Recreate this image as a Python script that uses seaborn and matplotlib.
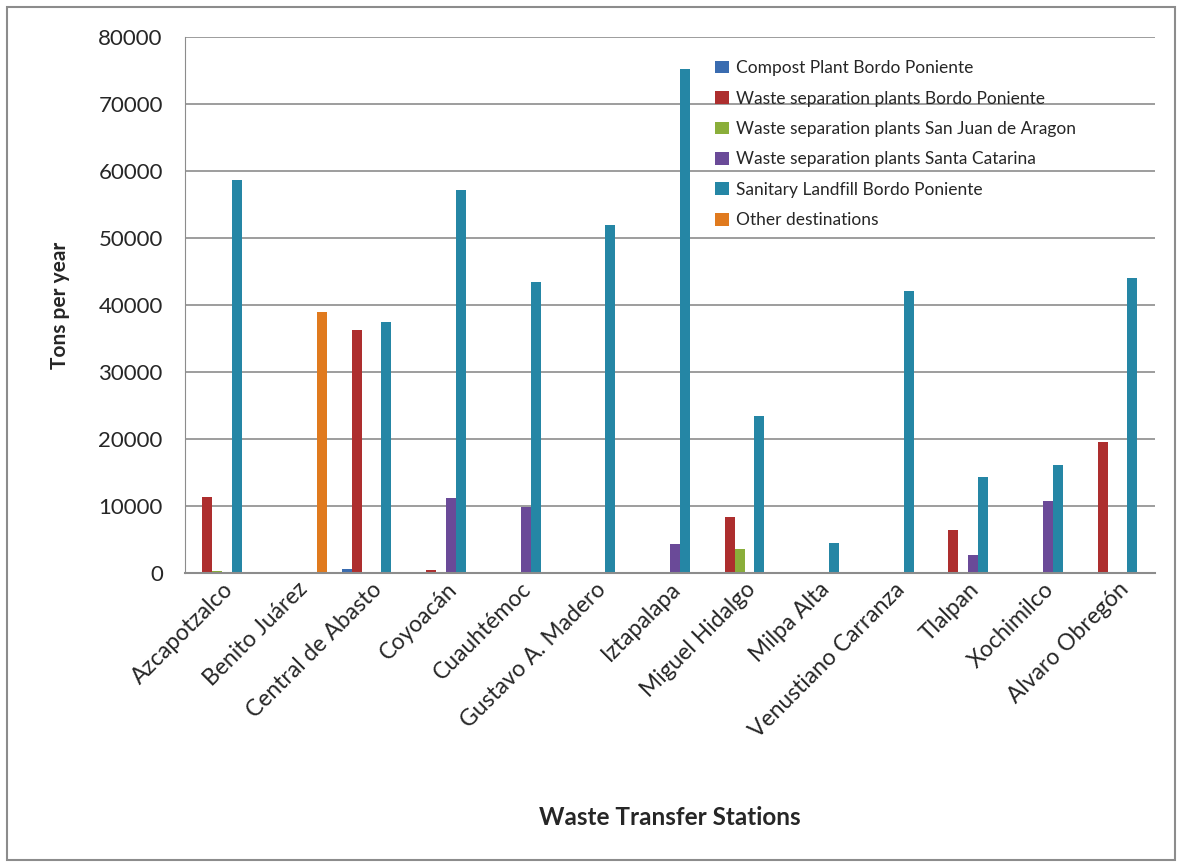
import pandas as pd
import numpy as np
import seaborn as sns
import matplotlib.pyplot as plt
from matplotlib.patches import Rectangle

stations = ["Azcapotzalco", "Benito Juárez", "Central de Abasto", "Coyoacán",
            "Cuauhtémoc", "Gustavo A. Madero", "Iztapalapa", "Miguel Hidalgo",
            "Milpa Alta", "Venustiano Carranza", "Tlalpan", "Xochimilco",
            "Alvaro Obregón"]

destinations = ["Compost Plant Bordo Poniente",
                "Waste separation plants Bordo Poniente",
                "Waste separation plants San Juan de Aragon",
                "Waste separation plants Santa Catarina",
                "Sanitary Landfill Bordo Poniente",
                "Other destinations"]

compost = [0, 0, 600, 0, 0, 0, 0, 0, 0, 0, 0, 0, 0]
sep_bordo = [11300, 0, 36300, 400, 0, 0, 0, 8400, 0, 0, 6400, 0, 19500]
sep_aragon = [300, 0, 0, 60, 0, 0, 0, 3600, 0, 0, 0, 0, 0]
sep_catarina = [80, 0, 60, 11200, 9850, 0, 4300, 0, 0, 0, 2700, 10700, 0]
landfill = [58700, 0, 37500, 57200, 43400, 51900, 75300, 23500, 4500, 42100,
            14300, 16200, 44000]
other = [0, 39000, 0, 0, 0, 0, 0, 0, 0, 0, 0, 0, 0]

colors = ["#3a6cb0", "#ad2e2e", "#8aae3a", "#6a4a98", "#2586a5", "#e07a1e"]

series = [compost, sep_bordo, sep_aragon, sep_catarina, landfill, other]
rows = []
for dest, vals in zip(destinations, series):
    for st, v in zip(stations, vals):
        rows.append({"Station": st, "Destination": dest, "Tons": v})
df = pd.DataFrame(rows)

sns.set_style("white")
plt.rcParams['font.family'] = ['Lato', 'DejaVu Sans']

fig = plt.figure(figsize=(11.82, 8.63), dpi=100)
ax = fig.add_axes([0.1565, 0.336, 0.8205, 0.621])

sns.barplot(data=df, x="Station", y="Tons", hue="Destination",
            palette=colors, order=stations, hue_order=destinations,
            width=0.8, saturation=1, ax=ax, edgecolor="none", legend=True)

ax.set_ylim(0, 80000)
ax.set_yticks(np.arange(0, 80001, 10000))
ax.yaxis.grid(True, color="#8c8c8c", linewidth=1.2)
ax.set_axisbelow(True)
for s in ["top", "right"]:
    ax.spines[s].set_visible(False)
ax.spines["left"].set_color("#8c8c8c")
ax.spines["bottom"].set_color("#8c8c8c")
ax.spines["bottom"].set_linewidth(1.5)
ax.tick_params(axis="y", labelsize=16, pad=16, length=0)
ax.tick_params(axis="x", labelsize=16.5, length=0, pad=4)
ax.set_yticklabels([str(v) for v in range(0, 80001, 10000)])
plt.setp(ax.get_xticklabels(), rotation=45, ha="right", rotation_mode="anchor")

ax.set_xlabel("Waste Transfer Stations", fontsize=17.5, fontweight="bold")
ax.xaxis.set_label_coords(0.5, -0.457)
ax.xaxis.label.set_va("center")
ax.set_ylabel("Tons per year", fontsize=15, fontweight="bold")
ax.yaxis.set_label_coords(-0.129, 0.5)
ax.yaxis.label.set_va("center")

leg = ax.legend(loc="upper left", bbox_to_anchor=(0.547, 0.957), frameon=False,
                fontsize=12.5, handlelength=0.75, handleheight=0.75,
                handletextpad=0.45, labelspacing=0.83, borderpad=0,
                borderaxespad=0)

fig.patches.append(Rectangle((0.006, 0.004), 0.988, 0.988, transform=fig.transFigure,
                             fill=False, edgecolor="#8c8c8c", linewidth=1.5))

fig.savefig("out.png", dpi=100)
